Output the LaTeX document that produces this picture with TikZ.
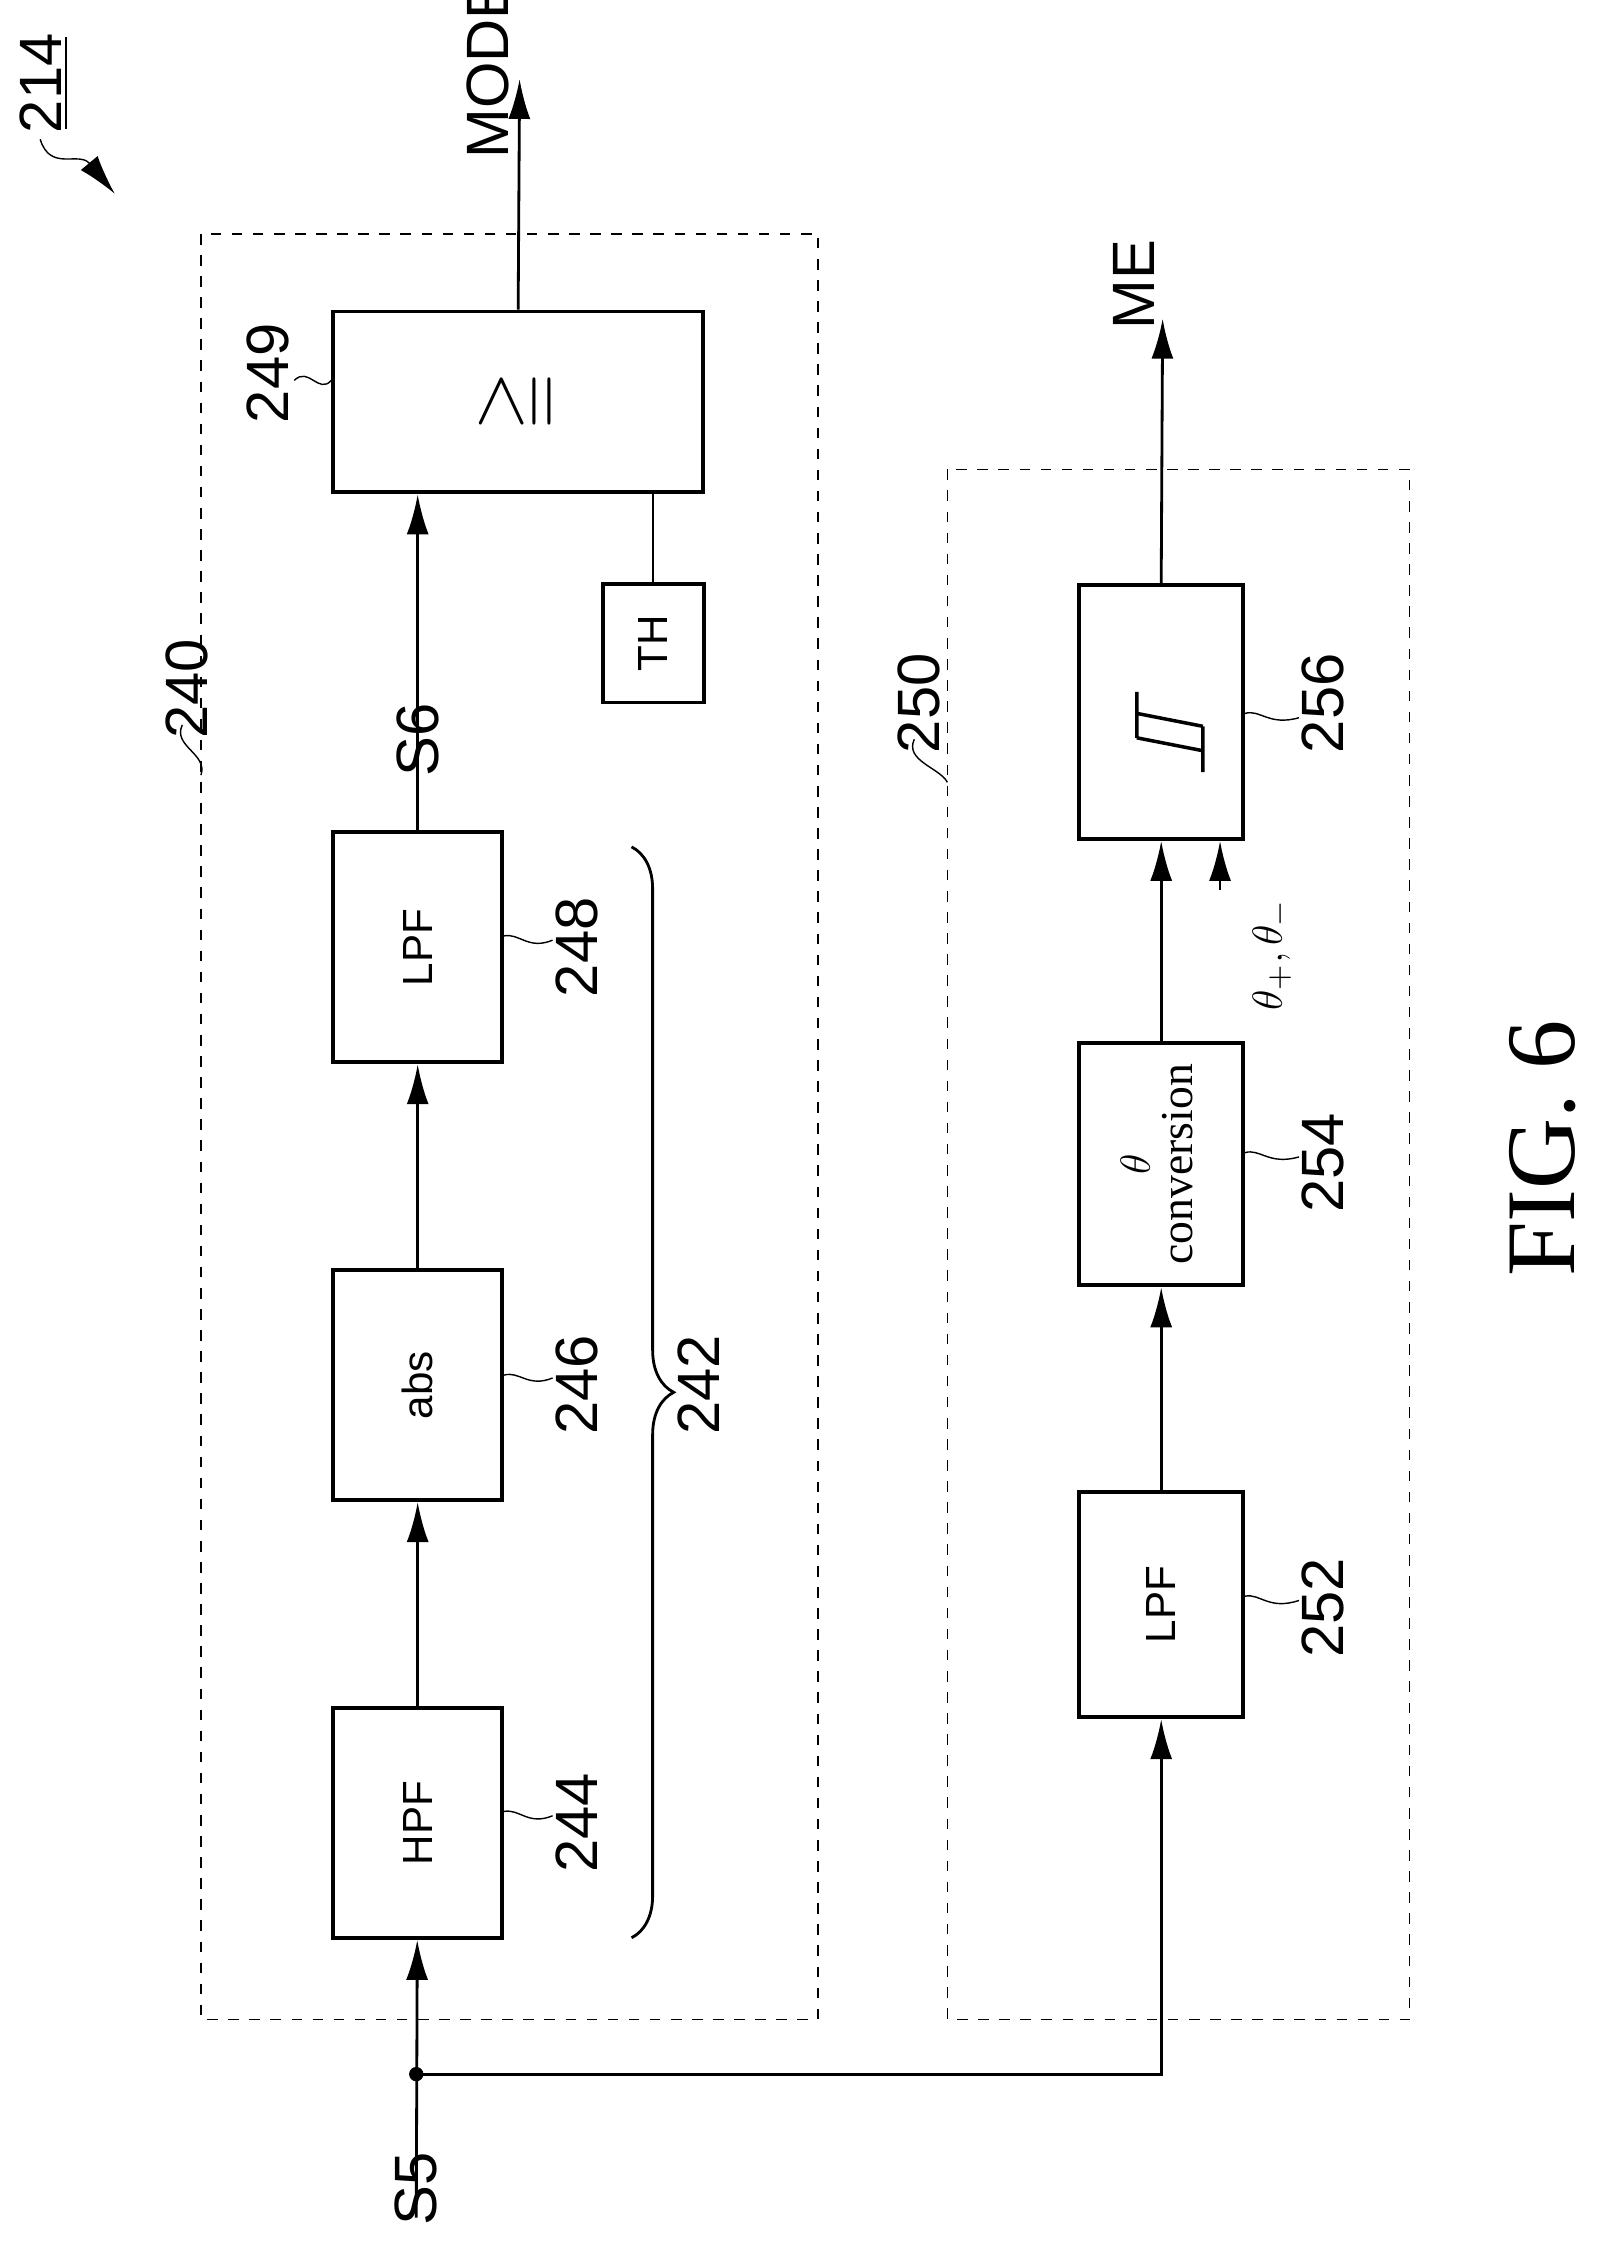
\documentclass[tikz,border=0pt]{standalone}
\usepackage{amssymb}
\usepackage{fontspec}
\setmainfont{Liberation Serif}
\setsansfont{Liberation Sans}
\usetikzlibrary{arrows.meta,decorations.pathreplacing}
\tikzset{>={Latex[length=4mm,width=2.2mm]}}
\tikzset{block/.style={draw,line width=1.1pt,inner sep=0pt},
  num/.style={font=\sffamily\fontsize{17}{20}\selectfont,rotate=90},
  wire/.style={line width=0.8pt}}
\newcommand{\rt}[1]{\rotatebox{90}{#1}}
\begin{document}
\begin{tikzpicture}[x=0.01436cm,y=-0.01436cm]
  \useasboundingbox (0,0) rectangle (1130,1578);
  % dashed groups
  \draw[dashed,thin] (140,163) rectangle (570,1407);
  \draw[dashed,thin] (660,327) rectangle (982,1407);
  % blocks of 240
  \node[block,minimum width=3.70cm,minimum height=1.81cm,font=\sffamily\fontsize{22}{24}\selectfont] (cmp) at (361,280) {\rt{$\geqq$}};
  \node[block,minimum width=1.01cm,minimum height=1.19cm,font=\sffamily\fontsize{12}{14}\selectfont] (th) at (455,448) {\rt{TH}};
  \node[block,minimum width=1.69cm,minimum height=2.30cm,font=\sffamily\fontsize{12}{14}\selectfont] (lpfa) at (291,660) {\rt{LPF}};
  \node[block,minimum width=1.69cm,minimum height=2.30cm,font=\sffamily\fontsize{12}{14}\selectfont] (abs) at (291,965) {\rt{abs}};
  \node[block,minimum width=1.69cm,minimum height=2.30cm,font=\sffamily\fontsize{12}{14}\selectfont] (hpf) at (291,1270) {\rt{HPF}};
  % blocks of 250
  \node[block,minimum width=1.64cm,minimum height=2.25cm,font=\sffamily\fontsize{12}{14}\selectfont] (lpfb) at (809,1118) {\rt{LPF}};
  \node[block,minimum width=1.64cm,minimum height=2.33cm,font=\fontsize{13}{14}\selectfont] (conv) at (809,811) {\rt{\begin{tabular}{c}$\theta$\\[-2pt]conversion\end{tabular}}};
  \node[block,minimum width=1.64cm,minimum height=2.54cm] (hys) at (809,496) {};
  \draw[line width=1pt] (792,482) -- (792,514) (838,506) -- (838,538)
    (792,497) -- (838,506) (792,514) -- (838,523);
  % terminals
  \coordinate (s5) at (290,1545);
  \coordinate (dot) at (290,1445);
  \coordinate (mode) at (362,55);
  \coordinate (me) at (810,222);
  \coordinate (thsrc) at (850,620);
  % connectors
  \draw[wire,->] (s5) -- (hpf);
  \fill (dot) circle (5);
  \draw[wire,->] (dot) -| (lpfb);
  \draw[wire,->] (hpf) -- (abs);
  \draw[wire,->] (abs) -- (lpfa);
  \draw[wire,->] (lpfa) -- node[num,left=22pt,anchor=center] {S6} (cmp.south -| lpfa);
  \draw[wire] (th) -- (cmp.south -| th);
  \draw[wire,->] (cmp.north) -- (mode);
  \draw[wire,->] (lpfb) -- (conv);
  \draw[wire,->] (conv) -- (hys);
  \draw[wire,->] (hys.north) -- (me);
  \draw[wire,->] (thsrc) -- (hys.south -| thsrc);
  % texts
  \node[num] at (290,1525) {S5};
  \node[num] at (340,48) {MODE};
  \node[num] at (790,198) {ME};
  \node[rotate=90,font=\fontsize{13}{15}\selectfont] at (886,665) {$\theta_+,\theta_-$};
  % brace 242
  \draw[wire,decorate,decoration={brace,amplitude=12pt}] (440,590) -- (440,1350);
  \node[num] at (487,965) {242};
  % reference numerals
  \node[num] (n249) at (187,260) {249};
  \draw[thin] (205,265) .. controls (215,255) and (222,275) .. (cmp.west |- 0,265);
  \node[num] (n248) at (402,660) {248};
  \draw[thin] (lpfa.east |- 0,652) .. controls (362,650) and (368,662) .. (385,655);
  \node[num] (n246) at (402,965) {246};
  \draw[thin] (abs.east |- 0,958) .. controls (362,955) and (368,967) .. (385,960);
  \node[num] (n244) at (402,1270) {244};
  \draw[thin] (hpf.east |- 0,1262) .. controls (362,1260) and (368,1272) .. (385,1265);
  \node[num] (n252) at (922,1120) {252};
  \draw[thin] (lpfb.east |- 0,1112) .. controls (878,1110) and (884,1122) .. (905,1115);
  \node[num] (n254) at (922,810) {254};
  \draw[thin] (conv.east |- 0,803) .. controls (878,800) and (884,812) .. (905,806);
  \node[num] (n256) at (922,490) {256};
  \draw[thin] (hys.east |- 0,497) .. controls (878,494) and (884,506) .. (905,500);
  \node[num] (n240) at (130,480) {240};
  \draw[thin] (127,505) .. controls (120,520) and (145,525) .. (140,540);
  \node[num] (n250) at (640,490) {250};
  \draw[thin] (637,515) .. controls (630,530) and (655,535) .. (660,545);
  \node[num] (n214) at (28,58) {214};
  \draw[thin] (46,26) -- (46,90);
  \draw[thin,-{Latex[length=4mm,width=2.2mm]}] (28,97) .. controls (35,120) and (55,105) .. (80,135);
  \node[rotate=90,font=\fontsize{28}{32}\selectfont] at (1075,800) {FIG. 6};
\end{tikzpicture}
\end{document}
